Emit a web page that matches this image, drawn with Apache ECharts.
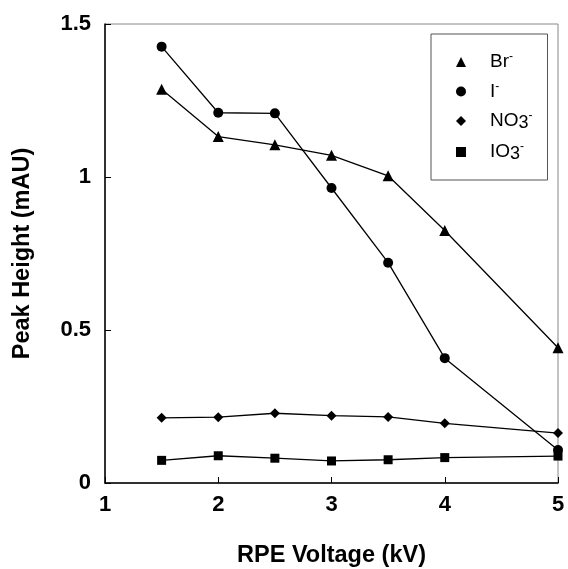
<!DOCTYPE html>
<html><head><meta charset="utf-8">
<script src="https://cdn.jsdelivr.net/npm/echarts@6/dist/echarts.min.js"></script>
<style>html,body{margin:0;padding:0;background:#fff}#c{width:568px;height:569px}</style>
</head><body><div id="c"></div>
<script>
var voltages = [1.5, 2.0, 2.5, 3.0, 3.5, 4.0, 5.0];
var brValues = [1.287, 1.132, 1.105, 1.071, 1.004, 0.825, 0.442];
var iValues = [1.426, 1.210, 1.208, 0.964, 0.720, 0.408, 0.108];
var no3Values = [0.213, 0.215, 0.228, 0.220, 0.216, 0.195, 0.163];
var io3Values = [0.074, 0.089, 0.081, 0.072, 0.076, 0.083, 0.088];
var seriesNames = ['Br', 'I', 'NO3', 'IO3'];
var xTitle = 'RPE Voltage (kV)';
var yTitle = 'Peak Height (mAU)';

function pairs(vals){ return voltages.map(function(v,i){ return [v, vals[i]]; }); }
var symbols = ['triangle','circle','diamond','rect'];
var sizes = [11, 10, 10, 9];
var allVals = [brValues, iValues, no3Values, io3Values];

var chart = echarts.init(document.getElementById('c'), null, {renderer:'canvas'});
var font = 'Arial, "Liberation Sans", Helvetica, sans-serif';
chart.setOption({
  animation: false,
  backgroundColor: '#fff',
  grid: {left: 105, right: 10, top: 24, bottom: 86, show: true, borderColor: '#888', borderWidth: 1,
         containLabel: false, outerBoundsMode: 'none'},
  xAxis: {
    type: 'value', min: 1, max: 5, interval: 1,
    name: xTitle, nameLocation: 'middle', nameGap: 61,
    nameTextStyle: {fontFamily: font, fontWeight: 'bold', fontSize: 23.5, color: '#000'},
    axisLine: {lineStyle: {color: '#000', width: 1.5}},
    axisTick: {inside: true, length: 6, lineStyle: {color: '#000', width: 1}},
    axisLabel: {fontFamily: font, fontWeight: 'bold', fontSize: 22, color: '#000', margin: 11},
    splitLine: {show: false}
  },
  yAxis: {
    type: 'value', min: 0, max: 1.5, interval: 0.5,
    name: yTitle, nameLocation: 'middle', nameGap: 70,
    nameTextStyle: {fontFamily: font, fontWeight: 'bold', fontSize: 23.5, color: '#000'},
    axisLine: {show: true, lineStyle: {color: '#000', width: 1.5}},
    axisTick: {show: true, inside: true, length: 6, lineStyle: {color: '#000', width: 1}},
    axisLabel: {fontFamily: font, fontWeight: 'bold', fontSize: 22, color: '#000', margin: 14},
    splitLine: {show: false}
  },
  legend: {
    orient: 'vertical', left: 431, top: 34,
    padding: [17, 15, 17, 25],
    borderColor: '#555', borderWidth: 1,
    itemWidth: 10, itemHeight: 10, itemGap: 9,
    data: seriesNames.map(function(n,i){ return {name: n, icon: symbols[i]}; }),
    formatter: function(n){
      if (n === 'Br') return '{t|Br}{s|-}';
      if (n === 'I') return '{t|I}{s|-}';
      if (n === 'NO3') return '{t|NO}{b|3}{s|-}';
      return '{t|IO}{b|3}{s|-}';
    },
    textStyle: {
      fontFamily: font, fontSize: 19, color: '#000', padding: [0,0,0,19],
      rich: {
        t: {fontFamily: font, fontSize: 19, color: '#000', lineHeight: 22, verticalAlign: 'middle'},
        s: {fontFamily: font, fontSize: 12, color: '#000', lineHeight: 12, verticalAlign: 'top'},
        b: {fontFamily: font, fontSize: 18, color: '#000', lineHeight: 18, verticalAlign: 'bottom'}
      }
    }
  },
  series: seriesNames.map(function(n,i){
    return {
      name: n, type: 'line', data: pairs(allVals[i]),
      symbol: symbols[i], symbolSize: sizes[i], showSymbol: true,
      lineStyle: {color: '#000', width: 1.3},
      itemStyle: {color: '#000'},
      z: 3
    };
  })
});
</script></body></html>
